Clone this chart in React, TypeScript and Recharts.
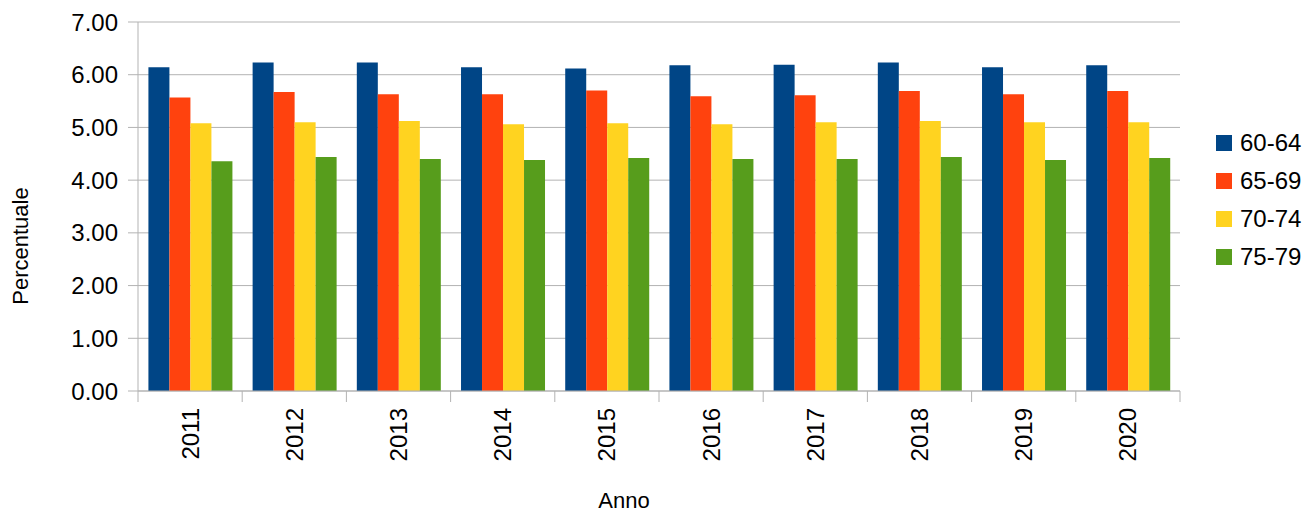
import { BarChart, Bar, XAxis, YAxis, CartesianGrid, Label } from 'recharts';

const years = ['2011', '2012', '2013', '2014', '2015', '2016', '2017', '2018', '2019', '2020'];
const s6064 = [6.14, 6.23, 6.23, 6.14, 6.12, 6.18, 6.19, 6.23, 6.14, 6.18];
const s6569 = [5.57, 5.67, 5.63, 5.63, 5.7, 5.59, 5.61, 5.69, 5.63, 5.69];
const s7074 = [5.08, 5.1, 5.12, 5.06, 5.08, 5.06, 5.1, 5.12, 5.1, 5.1];
const s7579 = [4.36, 4.44, 4.4, 4.38, 4.42, 4.4, 4.4, 4.44, 4.38, 4.42];
const yTicks = [0, 1, 2, 3, 4, 5, 6, 7];

const series = [
  { key: 'a', name: '60-64', color: '#004586' },
  { key: 'b', name: '65-69', color: '#ff420e' },
  { key: 'c', name: '70-74', color: '#ffd320' },
  { key: 'd', name: '75-79', color: '#579d1c' },
];

const data = years.map((y, i) => ({ year: y, a: s6064[i], b: s6569[i], c: s7074[i], d: s7579[i] }));

const GRID = '#b3b3b3';
const FONT = '"Liberation Sans", Arial, sans-serif';

function YearTick(props: any) {
  const { x, y, payload, index } = props;
  const half = payload.offset || 0;
  const ty = y + 17;
  return (
    <g>
      <line x1={x - half} x2={x - half} y1={y} y2={y + 11} stroke={GRID} />
      {index === years.length - 1 && (
        <line x1={x + half} x2={x + half} y1={y} y2={y + 11} stroke={GRID} />
      )}
      <text
        x={x}
        y={ty}
        transform={`rotate(-90, ${x}, ${ty})`}
        textAnchor="end"
        dominantBaseline="central"
        fontSize={24}
        fill="#000"
      >
        {payload.value}
      </text>
    </g>
  );
}

export default function App() {
  return (
    <div style={{ position: 'absolute', left: 0, top: 0, width: 1316, height: 516, background: '#fff', fontFamily: FONT }}>
      <BarChart
        width={1316}
        height={516}
        data={data}
        margin={{ top: 22, right: 136, bottom: 0, left: 0 }}
        barCategoryGap="10%"
        barGap={0}
      >
        <CartesianGrid vertical={false} stroke={GRID} />
        <XAxis
          dataKey="year"
          height={125}
          tickSize={0}
          tickMargin={0}
          tickLine={false}
          axisLine={{ stroke: GRID }}
          tick={<YearTick />}
          interval={0}
        >
          <Label
            content={() => (
              <text x={624} y={508} textAnchor="middle" fontSize={22} fill="#000">
                Anno
              </text>
            )}
          />
        </XAxis>
        <YAxis
          width={138}
          domain={[0, 7]}
          ticks={yTicks}
          tickFormatter={(v: number) => v.toFixed(2)}
          tickSize={10}
          tickMargin={10}
          tickLine={{ stroke: GRID }}
          axisLine={{ stroke: GRID }}
          tick={{ fill: '#000', fontSize: 24 }}
        >
          <Label
            content={() => (
              <text x={28} y={246} transform="rotate(-90, 28, 246)" textAnchor="middle" fontSize={22} fill="#000">
                Percentuale
              </text>
            )}
          />
        </YAxis>
        <YAxis
          yAxisId="right"
          orientation="right"
          width={0}
          domain={[0, 7]}
          tick={false}
          tickLine={false}
          axisLine={{ stroke: GRID }}
        />
        {series.map((s) => (
          <Bar key={s.key} dataKey={s.key} name={s.name} fill={s.color} isAnimationActive={false} />
        ))}
      </BarChart>
      <div style={{ position: 'absolute', left: 1216, top: 124, fontSize: 24, color: '#000' }}>
        {series.map((s) => (
          <div key={s.key} style={{ display: 'flex', alignItems: 'center', height: 38 }}>
            <div style={{ width: 16, height: 16, background: s.color, marginRight: 8 }} />
            <span>{s.name}</span>
          </div>
        ))}
      </div>
    </div>
  );
}
